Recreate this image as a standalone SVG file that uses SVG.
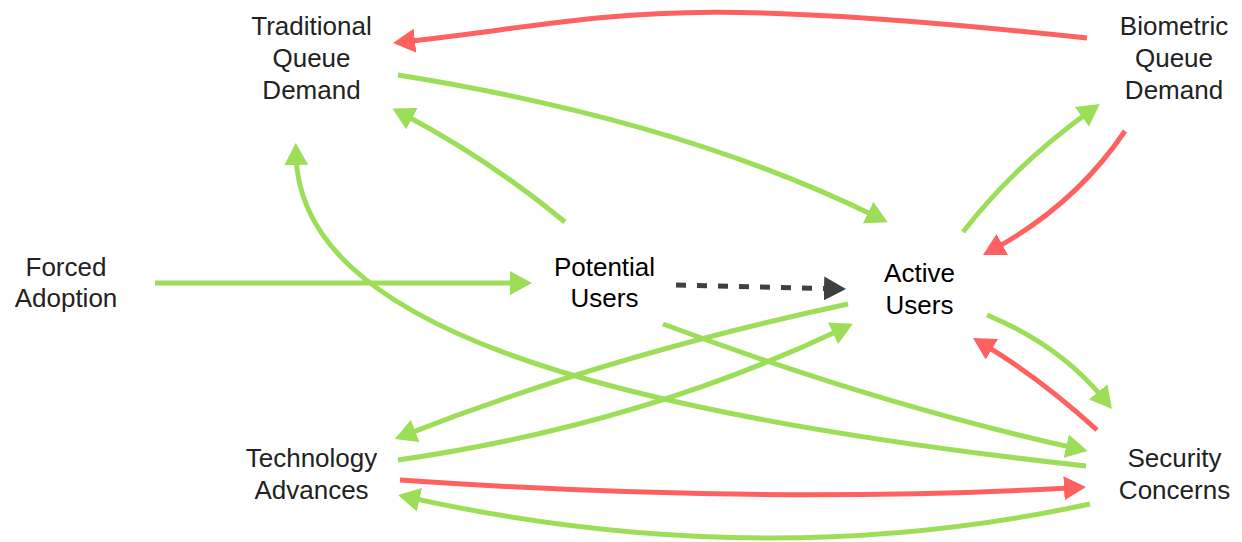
<svg xmlns="http://www.w3.org/2000/svg" width="1242" height="542" viewBox="0 0 1242 542">
<style>
.lbl{font-family:"Liberation Sans",Arial,Helvetica,sans-serif;font-size:26px;fill:#222;text-anchor:middle}
.dk{fill:#000}
.e{fill:none;stroke-width:5}
.g{stroke:#9DDE58}
.r{stroke:#FF6060}
.d{stroke:#404040;stroke-dasharray:10 11}
</style>
<defs>
<marker id="ag" markerUnits="userSpaceOnUse" markerWidth="22" markerHeight="24" refX="10" refY="12" orient="auto"><path d="M0,0 L22,12 L0,24 z" fill="#9DDE58"/></marker>
<marker id="ar" markerUnits="userSpaceOnUse" markerWidth="22" markerHeight="24" refX="10" refY="12" orient="auto"><path d="M0,0 L22,12 L0,24 z" fill="#FF6060"/></marker>
<marker id="ad" markerUnits="userSpaceOnUse" markerWidth="22" markerHeight="24" refX="10" refY="12" orient="auto"><path d="M0,0 L22,12 L0,24 z" fill="#404040"/></marker>
</defs>
<g id="connectors">
<path class="e r" marker-end="url(#ar)" d="M1087,38 C657,-8 623,17 405,41.7"/>
<path class="e g" marker-end="url(#ag)" d="M398,75 Q680,120 877,217"/>
<path class="e g" marker-end="url(#ag)" d="M565,222 Q490,160 403,114"/>
<path class="e g" marker-end="url(#ag)" d="M1086,466 C586,411 300,323 296,155"/>
<path class="e g" marker-end="url(#ag)" d="M155,283 L520,283"/>
<path class="e d" marker-end="url(#ad)" d="M676,285 L834,288.7"/>
<path class="e g" marker-end="url(#ag)" d="M963,232 Q1015,165 1090,111"/>
<path class="e r" marker-end="url(#ar)" d="M1125,131 Q1075,205 993.5,249.3"/>
<path class="e g" marker-end="url(#ag)" d="M848,304 Q610,355 406,434.6"/>
<path class="e g" marker-end="url(#ag)" d="M398,460 Q640,425 842,329"/>
<path class="e g" marker-end="url(#ag)" d="M663,324 Q880,405 1076,448.4"/>
<path class="e g" marker-end="url(#ag)" d="M987,315 Q1060,345 1104.4,399.7"/>
<path class="e r" marker-end="url(#ar)" d="M1097,430 Q1040,378 983.3,344.2"/>
<path class="e r" marker-end="url(#ar)" d="M400,480 Q760,505 1074,487.7"/>
<path class="e g" marker-end="url(#ag)" d="M1090,504 Q760,575 409.7,497.6"/>
</g>
<g id="traditional"><text class="lbl" x="311.5" y="35">Traditional</text><text class="lbl" x="311.5" y="67">Queue</text><text class="lbl" x="311.5" y="99">Demand</text></g>
<g id="biometric"><text class="lbl" x="1174" y="35">Biometric</text><text class="lbl" x="1174" y="67">Queue</text><text class="lbl" x="1174" y="99">Demand</text></g>
<g id="forced"><text class="lbl" x="66" y="276">Forced</text><text class="lbl" x="66" y="307">Adoption</text></g>
<g id="potential"><text class="lbl dk" x="604.5" y="276">Potential</text><text class="lbl dk" x="604.5" y="307">Users</text></g>
<g id="active"><text class="lbl dk" x="919.5" y="282">Active</text><text class="lbl dk" x="919.5" y="314">Users</text></g>
<g id="technology"><text class="lbl" x="311.5" y="467">Technology</text><text class="lbl" x="311.5" y="499">Advances</text></g>
<g id="security"><text class="lbl" x="1174.5" y="467">Security</text><text class="lbl" x="1174.5" y="499">Concerns</text></g>
</svg>
